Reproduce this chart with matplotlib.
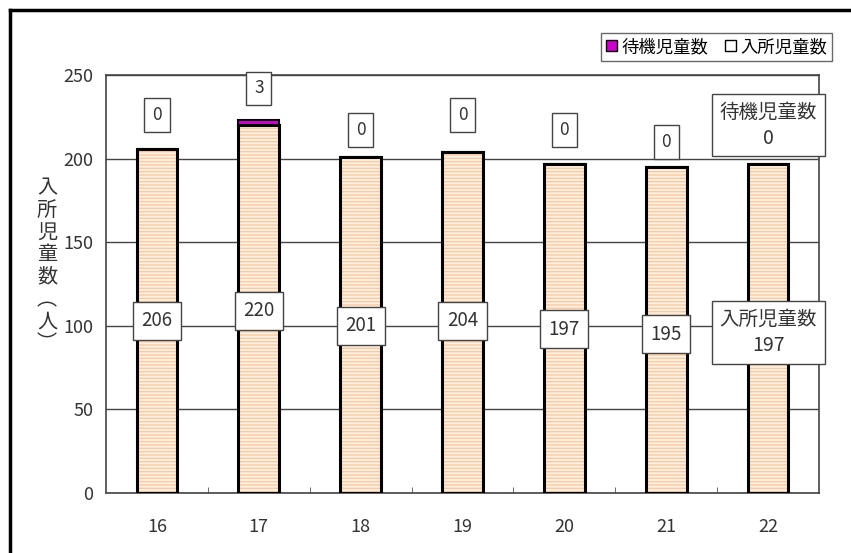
import matplotlib.pyplot as plt
import matplotlib.patches as mpatches

plt.rcParams['font.family'] = ['Noto Sans CJK JP', 'DejaVu Sans']

years = ['16', '17', '18', '19', '20', '21', '22']
nyusho = [206, 220, 201, 204, 197, 195, 197]   # 入所児童数
taiki = [0, 3, 0, 0, 0, 0, 0]                   # 待機児童数

fig = plt.figure(figsize=(8.51, 5.53), dpi=100)
ax = fig.add_axes([106 / 851, 60 / 553, 713 / 851, 418 / 553])

x = list(range(len(years)))
w = 0.4

# hatched fill (light peach with orange horizontal stripes)
ax.bar(x, nyusho, w, color='#fff1e4', edgecolor='#f9c9a0', hatch='-----', linewidth=0, zorder=2)
ax.bar(x, nyusho, w, fill=False, edgecolor='black', linewidth=2.2, zorder=3)
ax.bar(x, taiki, w, bottom=nyusho, color='#cc00cc', edgecolor='black', linewidth=1.5, zorder=3)

ax.set_xlim(-0.5, len(years) - 0.5)
ax.set_ylim(0, 250)
ax.set_yticks(range(0, 251, 50))
ax.set_xticks(x)
ax.set_xticklabels(years)
ax.tick_params(axis='both', length=0, labelsize=13, colors='#333333')
ax.tick_params(axis='x', pad=18)
ax.tick_params(axis='y', pad=9)
ax.set_xticks([i + 0.5 for i in x[:-1]], minor=True)
ax.tick_params(axis='x', which='minor', length=4, direction='in', color='#555555')
ax.yaxis.grid(True, color='#444444', linewidth=1, zorder=0)
for s in ax.spines.values():
    s.set_color('#444444')
    s.set_linewidth(1.2)

box = dict(boxstyle='square,pad=0.45', facecolor='white', edgecolor='#444444', linewidth=1)

# labels for the middle (入所児童数)
mid_y = [103, 109, 100, 103, 98, 95]
for i in range(6):
    ax.text(x[i], mid_y[i], str(nyusho[i]), ha='center', va='center', fontsize=13.5,
            color='#333333', bbox=box, zorder=5)
# labels above (待機児童数)
top_y = [226, 242, 217, 226, 217, 210]
for i in range(6):
    ax.text(x[i], top_y[i], str(taiki[i]), ha='center', va='center', fontsize=12.5,
            color='#333333', bbox=box, zorder=5)

# last year's labels with the series names
lbox = dict(boxstyle='square,pad=0.4', facecolor='white', edgecolor='#444444', linewidth=1)
ax.text(x[6], 220, '待機児童数\n0', ha='center', va='center', fontsize=14,
        color='#333333', bbox=lbox, zorder=5, linespacing=1.3)
ax.text(x[6], 96, '入所児童数\n197', ha='center', va='center', fontsize=14,
        color='#333333', bbox=lbox, zorder=5, linespacing=1.3)

# vertical y label
fig.text(47 / 851, 1 - 266 / 553, '入\n所\n児\n童\n数\n︵\n人\n︶', ha='center', va='center',
         fontsize=14.5, color='#333333', linespacing=1.08)

handles = [mpatches.Patch(facecolor='#cc00cc', edgecolor='black', label='待機児童数'),
           mpatches.Patch(facecolor='white', edgecolor='black', label='入所児童数')]
leg = fig.legend(handles=handles, loc='upper right', bbox_to_anchor=(841 / 851, 1 - 24 / 553),
                 ncol=2, fontsize=12.5, frameon=True, fancybox=False, handlelength=0.6,
                 handleheight=0.6, handletextpad=0.25, columnspacing=1.0, borderpad=0.3)
leg.get_frame().set_edgecolor('#444444')
leg.get_frame().set_linewidth(1)

# outer frame (left and top edges)
fig.add_artist(plt.Line2D([10 / 851, 10 / 851], [0, 1 - 10 / 553], color='black', linewidth=2.5))
fig.add_artist(plt.Line2D([10 / 851, 1], [1 - 10 / 553, 1 - 10 / 553], color='black', linewidth=2.5))

fig.savefig('out.png', dpi=100)
